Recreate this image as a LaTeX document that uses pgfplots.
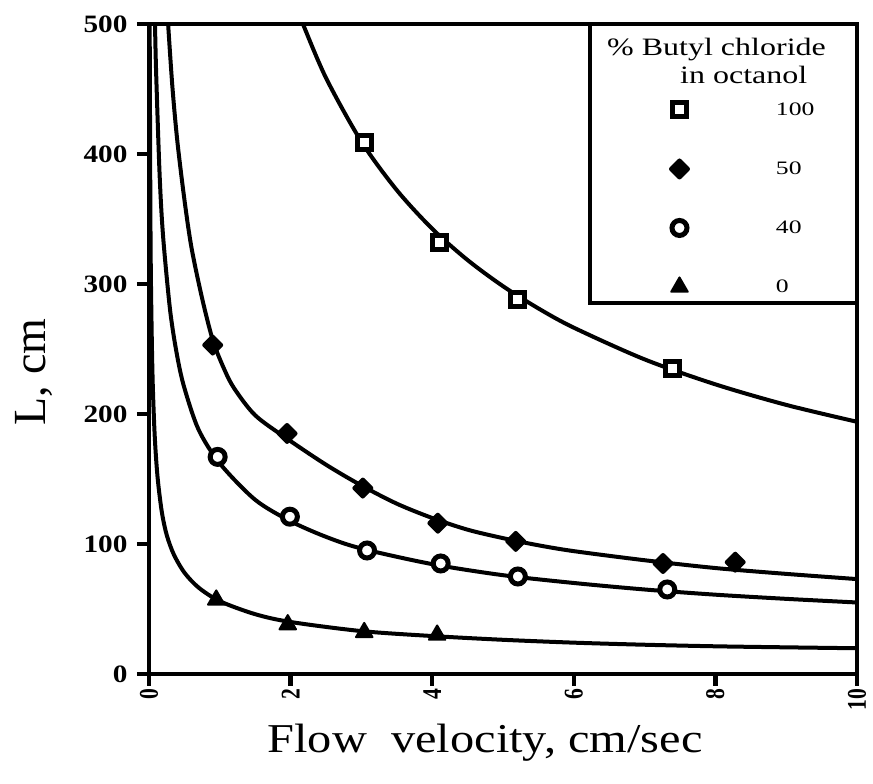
\documentclass[border=0pt]{standalone}
\usepackage{fontspec}
\setmainfont{Liberation Serif}
\newfontfamily\widefont{Liberation Serif}[FakeStretch=1.18]
\newfontfamily\legfont{Liberation Serif}[FakeStretch=1.28]
\newfontfamily\tickfont{Liberation Serif}[FakeStretch=1.35]
\newfontfamily\tickbf{Liberation Serif Bold}[FakeStretch=1.17]
\newfontfamily\xtickbf{Liberation Serif Bold}[FakeStretch=0.8]
\usepackage{pgfplots}
\pgfplotsset{compat=1.18}

\begin{document}
\begin{tikzpicture}
\begin{axis}[
  width=708pt, height=650pt, scale only axis,
  xmin=0, xmax=10, ymin=0, ymax=500,
  axis line style={line width=4.5pt},
  xtick={0,2,...,10}, ytick={0,100,...,500},
  tick pos=left, tick align=outside,
  major tick length=12pt,
  tick style={line width=4.5pt, black},
  /pgf/number format/assume math mode=true,
  x tick label style={font=\xtickbf\fontsize{27}{27}\selectfont, rotate=90, anchor=east, inner sep=3pt},
  y tick label style={font=\tickbf\fontsize{25}{25}\selectfont, xshift=-6pt},
  xlabel={Flow\ \ velocity, cm/sec},
  ylabel={L, cm},
  xlabel style={font=\widefont\fontsize{41}{41}\selectfont, at={(axis description cs:0.4746,-0.1215)}, anchor=base},
  ylabel style={font=\fontsize{46}{46}\selectfont, at={(axis description cs:-0.1455,0.4646)}, anchor=base},
  legend style={draw=none, fill=none, at={(axis description cs:0.7373,0.8908)}, anchor=north west,
    inner sep=0pt, outer sep=0pt, row sep=29pt, column sep=88pt,
    font=\tickfont\fontsize{19}{19}\selectfont, nodes={inner sep=0pt}, cells={anchor=west}},
  legend image code/.code={\path[draw=none, fill=none] (0pt,-15pt) rectangle (16pt,15pt); \draw[#1] plot coordinates {(8pt,0pt)};},
]
% fitted curves
\addplot[black, line width=4pt, smooth, forget plot] coordinates {
(2.175,500) (2.5,458.5) (3,409.5) (3.5,372.2) (4,342.5) (4.5,318.4) (5,298.3) (5.5,281.2) (6,266.4) (7,242.0) (8,222.8) (9,207.0) (10,194)};
\addplot[black, line width=4pt, smooth, forget plot] coordinates {
(0.27,500) (0.33,452) (0.4,410) (0.5,365) (0.6,328) (0.75,289) (0.9,257) (1.05,236) (1.2,220) (1.5,199) (1.95,181) (2.5,161) (3,145) (3.5,131) (4,120) (4.5,111) (5,104.5) (5.5,99) (6,94.5) (7,87.5) (8,81.5) (9,77) (10,73)};
\addplot[black, line width=4pt, smooth, forget plot] coordinates {
(0.085,500) (0.1,464) (0.15,384) (0.2,336) (0.3,279) (0.4,244) (0.5,220) (0.7,188) (1,162) (1.5,134) (2,117.5) (2.5,105.5) (3,96.5) (4,84.5) (5,76) (6,70) (7,65) (8,61) (9,57.8) (10,55)};
\addplot[black, line width=4pt, smooth, forget plot] coordinates {
(0.0095,500) (0.02,352) (0.03,291) (0.05,229) (0.08,184) (0.12,152) (0.18,125) (0.25,107) (0.35,92) (0.5,78) (0.7,66.5) (1,56) (1.5,46) (2,40) (3,33) (4,29.2) (5,26.3) (6,24.1) (7,22.5) (8,21.3) (9,20.5) (10,19.8)};
% data
\addplot[only marks, mark=square*, mark size=7pt, mark options={line width=5pt, fill=white, draw=black}] coordinates {
(3.05,409) (4.11,332) (5.2,288) (7.4,235)};
\addlegendentry{100}
\addplot[only marks, mark=square*, mark size=6pt, mark options={rotate=45, line width=4pt, line join=round, fill=black, draw=black}] coordinates {
(0.9,253) (1.95,185) (3.02,143) (4.08,116) (5.18,102) (7.26,85) (8.28,86)};
\addlegendentry{50}
\addplot[only marks, mark=*, mark size=7.5pt, mark options={line width=5pt, fill=white, draw=black}] coordinates {
(0.97,167) (1.99,121) (3.08,95) (4.12,85) (5.21,75) (7.32,65)};
\addlegendentry{40}
\addplot[only marks, mark=triangle*, mark size=9.5pt, mark options={line width=2pt, line join=round, fill=black, draw=black}] coordinates {
(0.95,57) (1.96,38) (3.04,32) (4.07,30)};
\addlegendentry{0}
% legend box and title
\draw[line width=4pt, black] (axis cs:6.23,500) rectangle (axis cs:10,285.4);
\node[anchor=base west, inner sep=0pt, font=\legfont\fontsize{25}{25}\selectfont] at (axis cs:6.469,476) {\% Butyl chloride};
\node[anchor=base west, inner sep=0pt, font=\legfont\fontsize{25}{25}\selectfont] at (axis cs:7.5,454.6) {in octanol};
\end{axis}
\pgfresetboundingbox
\path ([shift={(-149pt,-110pt)}]current axis.south west) rectangle ([shift={(16pt,24pt)}]current axis.north east);
\end{tikzpicture}
\end{document}
